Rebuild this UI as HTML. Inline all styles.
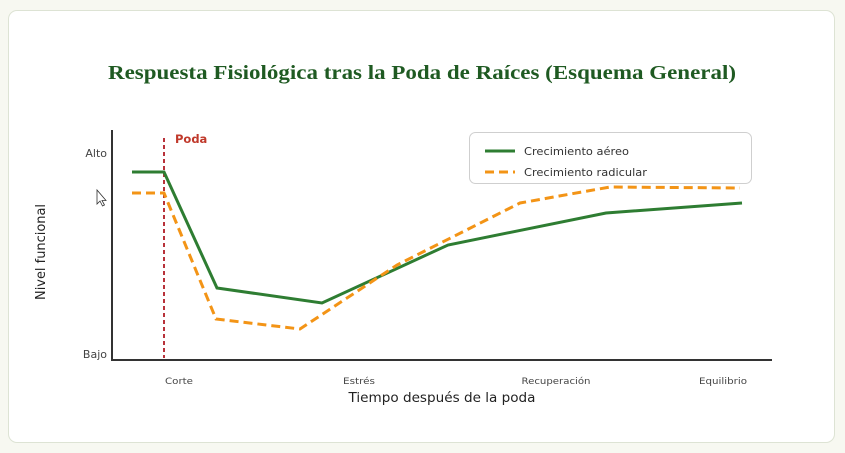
<!DOCTYPE html>
<html>
<head>
<meta charset="utf-8">
<style>
  html,body{margin:0;padding:0;background:#f7f8f1;}
  body{width:845px;height:453px;overflow:hidden;position:relative;}
  .card{position:absolute;left:8px;top:10px;width:825px;height:431px;background:#fff;border:1px solid #dde3d4;border-radius:9px;}
  svg{position:absolute;left:0;top:0;}
</style>
</head>
<body>
<div class="card"></div>
<svg width="845" height="453" viewBox="0 0 845 453" xmlns="http://www.w3.org/2000/svg">
  <text x="422" y="79" text-anchor="middle" font-family="'Liberation Serif', serif" font-weight="bold" font-size="19.5" fill="#1f5a22" textLength="628" lengthAdjust="spacingAndGlyphs">Respuesta Fisiológica tras la Poda de Raíces (Esquema General)</text>

  <!-- axes -->
  <line x1="112" y1="130" x2="112" y2="361" stroke="#333" stroke-width="2"/>
  <line x1="111" y1="360" x2="772" y2="360" stroke="#333" stroke-width="2"/>

  <!-- y labels -->
  <text x="107" y="157" text-anchor="end" font-family="'DejaVu Sans', sans-serif" font-size="11" fill="#444">Alto</text>
  <text x="107" y="358" text-anchor="end" font-family="'DejaVu Sans', sans-serif" font-size="11" fill="#444">Bajo</text>
  <text transform="translate(45,252) rotate(-90)" text-anchor="middle" font-family="'DejaVu Sans', sans-serif" font-size="13" fill="#222" textLength="96" lengthAdjust="spacingAndGlyphs">Nivel funcional</text>

  <!-- x labels -->
  <g font-family="'DejaVu Sans', sans-serif" font-size="9" fill="#444" text-anchor="middle">
    <text x="179" y="384" textLength="28" lengthAdjust="spacingAndGlyphs">Corte</text>
    <text x="359" y="384" textLength="32" lengthAdjust="spacingAndGlyphs">Estrés</text>
    <text x="556" y="384" textLength="69" lengthAdjust="spacingAndGlyphs">Recuperación</text>
    <text x="723" y="384" textLength="48" lengthAdjust="spacingAndGlyphs">Equilibrio</text>
  </g>
  <text x="442" y="402" text-anchor="middle" font-family="'DejaVu Sans', sans-serif" font-size="13.5" fill="#222" textLength="187" lengthAdjust="spacingAndGlyphs">Tiempo después de la poda</text>

  <!-- poda line -->
  <line x1="164" y1="138" x2="164" y2="358" stroke="#b8323a" stroke-width="2" stroke-dasharray="4,3"/>
  <text x="175" y="143" font-family="'DejaVu Sans', sans-serif" font-weight="bold" font-size="11.5" fill="#c0392b">Poda</text>

  <!-- series -->
  <polyline points="132,172 164,172 217,288 322,303 448,245 606,213 742,203" fill="none" stroke="#2e7d32" stroke-width="3" stroke-linejoin="miter"/>
  <polyline points="132,193 164,193 216,319 300,329 397,265 520,203 610,187 740,188" fill="none" stroke="#f39416" stroke-width="3" stroke-dasharray="9,5" stroke-linejoin="miter"/>

  <!-- legend -->
  <rect x="469.5" y="132.5" width="282" height="51" rx="6" ry="6" fill="#fff" fill-opacity="0.9" stroke="#cfcfcf" stroke-width="1"/>
  <line x1="485" y1="151" x2="515" y2="151" stroke="#2e7d32" stroke-width="3"/>
  <line x1="485" y1="172" x2="515" y2="172" stroke="#f39416" stroke-width="3" stroke-dasharray="9,5"/>
  <g font-family="'DejaVu Sans', sans-serif" font-size="11" fill="#333">
    <text x="524" y="155" textLength="105" lengthAdjust="spacingAndGlyphs">Crecimiento aéreo</text>
    <text x="524" y="176" textLength="123" lengthAdjust="spacingAndGlyphs">Crecimiento radicular</text>
  </g>

  <!-- cursor -->
  <path d="M97,190 L97,204 L100,201 L102.5,206 L104.5,205 L102,200.5 L106,200.5 Z" fill="#fff" stroke="#333" stroke-width="0.8"/>
</svg>
</body>
</html>
